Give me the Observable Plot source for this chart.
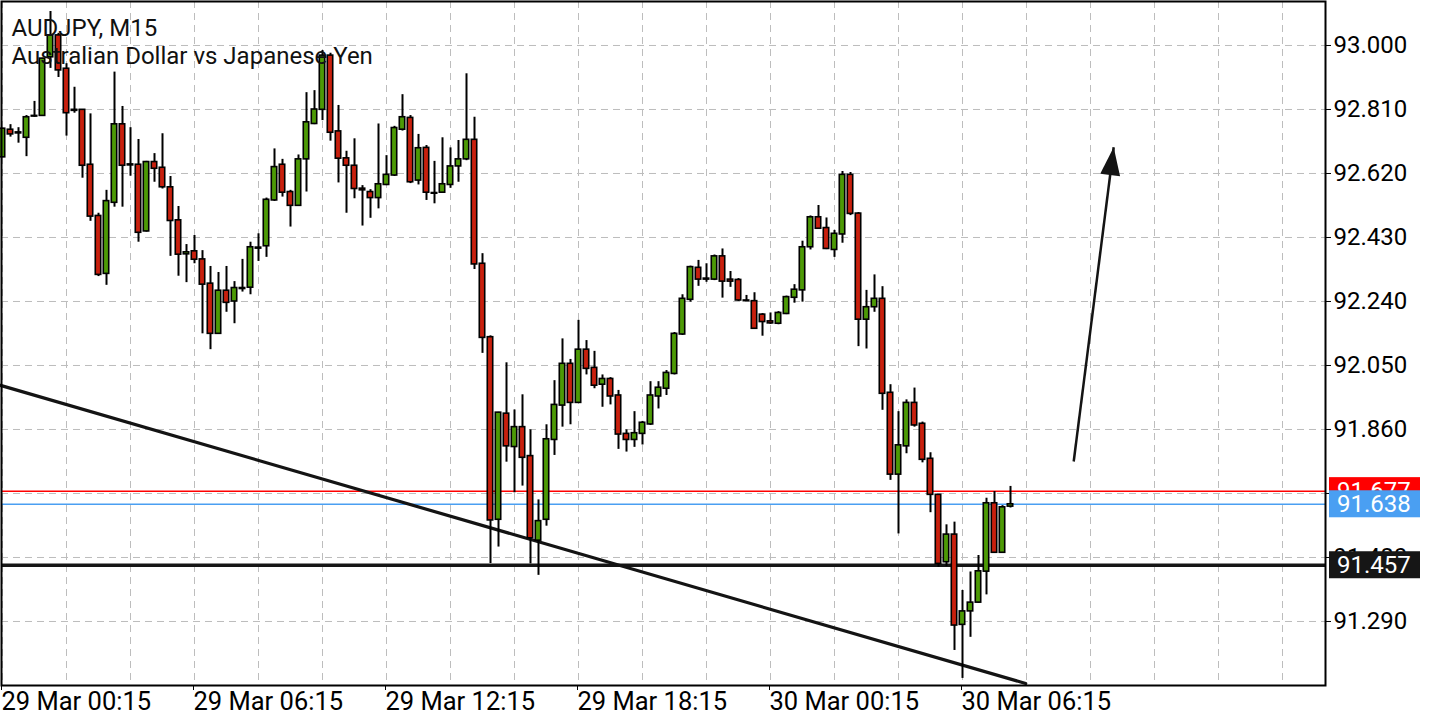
<!DOCTYPE html>
<html><head><meta charset="utf-8">
<script src="https://cdn.jsdelivr.net/npm/d3@7"></script>
<script src="https://cdn.jsdelivr.net/npm/@observablehq/plot@0.6"></script>
<style>
html,body{margin:0;padding:0;background:#fff;}
#chart{position:relative;width:1440px;height:720px;}
</style></head><body><div id="chart"></div>
<script>
const titleLine1 = "AUDJPY, M15";
const titleLine2 = "Australian Dollar vs Japanese Yen";

const open = [92.668,92.750,92.739,92.726,92.789,92.791,92.965,93.030,92.931,92.809,92.809,92.646,92.494,92.322,92.533,92.766,92.647,92.646,92.448,92.654,92.637,92.579,92.481,92.380,92.389,92.365,92.293,92.144,92.272,92.240,92.277,92.281,92.397,92.404,92.540,92.646,92.565,92.524,92.662,92.767,92.809,92.970,92.745,92.665,92.643,92.575,92.565,92.547,92.586,92.614,92.750,92.785,92.599,92.696,92.562,92.563,92.586,92.641,92.662,92.720,92.352,92.134,91.592,91.907,91.808,91.867,91.781,91.530,91.592,91.829,91.931,92.055,91.939,92.097,92.043,91.993,92.010,91.961,91.847,91.829,91.847,91.875,91.958,91.981,92.025,92.142,92.245,92.340,92.308,92.305,92.374,92.305,92.304,92.243,92.241,92.201,92.181,92.174,92.203,92.251,92.273,92.401,92.490,92.458,92.393,92.439,92.616,92.501,92.186,92.223,92.248,91.969,91.726,91.810,91.939,91.877,91.773,91.666,91.466,91.548,91.280,91.320,91.346,91.438,91.641,91.494,91.631];
const high = [92.754,92.765,92.756,92.792,92.834,92.962,93.101,93.036,92.946,92.876,92.810,92.797,92.502,92.570,92.921,92.819,92.756,92.721,92.656,92.679,92.738,92.611,92.522,92.409,92.436,92.391,92.344,92.326,92.344,92.299,92.365,92.416,92.441,92.547,92.693,92.662,92.570,92.675,92.860,92.866,92.985,92.977,92.822,92.686,92.723,92.584,92.572,92.767,92.673,92.760,92.854,92.792,92.736,92.703,92.656,92.726,92.696,92.718,92.916,92.787,92.382,92.138,91.911,92.058,91.918,91.963,91.859,91.651,91.874,92.005,92.129,92.068,92.184,92.124,92.092,92.022,92.014,91.976,91.859,91.913,91.884,92.002,92.002,92.035,92.148,92.260,92.345,92.362,92.352,92.378,92.396,92.329,92.308,92.258,92.266,92.204,92.206,92.210,92.256,92.290,92.419,92.494,92.525,92.488,92.451,92.626,92.623,92.504,92.273,92.319,92.284,91.993,91.913,91.948,91.983,91.882,91.791,91.667,91.577,91.585,91.382,91.437,91.486,91.656,91.676,91.634,91.691];
const low = [92.667,92.728,92.710,92.670,92.787,92.790,92.932,92.905,92.731,92.799,92.606,92.478,92.314,92.288,92.520,92.520,92.612,92.416,92.446,92.594,92.574,92.374,92.315,92.296,92.352,92.144,92.097,92.142,92.208,92.174,92.268,92.260,92.359,92.371,92.537,92.550,92.461,92.522,92.565,92.765,92.777,92.716,92.592,92.502,92.545,92.464,92.487,92.515,92.584,92.611,92.746,92.590,92.586,92.540,92.530,92.561,92.576,92.594,92.658,92.335,92.086,91.462,91.511,91.763,91.672,91.692,91.461,91.427,91.573,91.783,91.867,91.874,91.937,92.022,91.981,91.926,91.933,91.801,91.793,91.807,91.814,91.872,91.921,91.961,92.022,92.139,92.238,92.285,92.297,92.302,92.250,92.282,92.240,92.240,92.157,92.137,92.172,92.171,92.201,92.235,92.238,92.393,92.454,92.394,92.371,92.413,92.495,92.106,92.099,92.208,91.917,91.709,91.550,91.788,91.867,91.761,91.613,91.451,91.453,91.204,91.121,91.243,91.344,91.369,91.492,91.492,91.627];
const close = [92.753,92.736,92.742,92.787,92.791,92.961,93.030,92.926,92.799,92.806,92.643,92.492,92.319,92.538,92.766,92.643,92.644,92.444,92.654,92.634,92.579,92.479,92.379,92.386,92.364,92.290,92.144,92.272,92.236,92.280,92.280,92.401,92.400,92.542,92.639,92.563,92.524,92.662,92.772,92.810,92.970,92.741,92.664,92.643,92.574,92.570,92.547,92.588,92.616,92.755,92.787,92.594,92.695,92.563,92.560,92.588,92.641,92.662,92.720,92.350,92.132,91.590,91.910,91.810,91.867,91.776,91.537,91.588,91.831,91.933,92.055,91.939,92.097,92.040,91.990,92.010,91.958,91.845,91.829,91.849,91.880,91.961,91.984,92.028,92.144,92.248,92.342,92.305,92.305,92.374,92.299,92.299,92.243,92.241,92.159,92.179,92.175,92.206,92.253,92.275,92.401,92.490,92.456,92.396,92.441,92.616,92.500,92.186,92.223,92.248,91.966,91.726,91.813,91.939,91.872,91.770,91.666,91.461,91.548,91.278,91.320,91.346,91.439,91.641,91.494,91.629,91.638];

const xTickIdx = [0, 24, 48, 72, 96, 120];
const xTickLabels = ["29 Mar 00:15","29 Mar 06:15","29 Mar 12:15","29 Mar 18:15","30 Mar 00:15","30 Mar 06:15"];
const yTicks = [91.29, 91.48, 91.67, 91.86, 92.05, 92.24, 92.43, 92.62, 92.81, 93.0];

const levelValues = [91.677, 91.638, 91.457];
const levelColors = ["#ff0000", "#4a9ff2", "#161616"];
const levelWidths = [1.5, 1.5, 3.5];

const trendIdx = [-0.25, 127.9];
const trendPrice = [91.991, 91.106];
const arrowIdx = [133.9, 138.9];
const arrowPrice = [91.765, 92.698];

const BULL = "#4d9a06", BEAR = "#c8200e";

const candles = d3.range(open.length).map(i => ({i, o: open[i], h: high[i], l: low[i], c: close[i]}));
const trend = trendIdx.map((x, k) => ({x, y: trendPrice[k]}));
const arrow = [{x1: arrowIdx[0], y1: arrowPrice[0], x2: arrowIdx[1], y2: arrowPrice[1]}];
const levels = levelValues.map((v, k) => ({v, color: levelColors[k], w: levelWidths[k]}));

const headSymbol = {draw(ctx) { ctx.moveTo(0, 0); ctx.lineTo(-10, 28); ctx.lineTo(10, 28); ctx.closePath(); }};

const font = "Roboto, 'Noto Sans', sans-serif";

const chart = Plot.plot({
  width: 1440, height: 720,
  marginLeft: 1, marginRight: 115, marginTop: 1, marginBottom: 35,
  style: {fontFamily: font, background: "#fff", color: "#000"},
  x: {domain: [-0.125, 165.375]},
  y: {domain: [91.1, 93.1306]},
  marks: [
    Plot.gridY(yTicks, {stroke: "#bdbdbd", strokeOpacity: 1, strokeDasharray: "7,5"}),
    Plot.gridX(d3.range(0, 166, 8), {stroke: "#bdbdbd", strokeOpacity: 1, strokeDasharray: "7,5"}),
    ...levels.map(l => Plot.ruleY([l.v], {stroke: l.color, strokeWidth: l.w})),
    Plot.line(trend, {x: "x", y: "y", stroke: "#141414", strokeWidth: 3.2}),
    Plot.ruleX(candles, {x: "i", y1: "l", y2: "h", stroke: "#000", strokeWidth: 2}),
    Plot.rect(candles, {filter: d => d.c >= d.o, x1: d => d.i - 0.34, x2: d => d.i + 0.34, y1: "o", y2: "c", fill: BULL, stroke: "#000", strokeWidth: 1.6}),
    Plot.rect(candles, {filter: d => d.c < d.o, x1: d => d.i - 0.34, x2: d => d.i + 0.34, y1: "o", y2: "c", fill: BEAR, stroke: "#000", strokeWidth: 1.6}),
    Plot.link(arrow, {x1: "x1", y1: "y1", x2: "x2", y2: "y2", stroke: "#141414", strokeWidth: 2.5}),
    Plot.dot(arrow, {x: "x2", y: "y2", symbol: headSymbol, fill: "#141414", stroke: "none", rotate: 7.3}),
    Plot.text([titleLine1 + "\n" + titleLine2], {frameAnchor: "top-left", dx: 10, dy: 14, lineAnchor: "top", textAnchor: "start", fontSize: 24, lineHeight: 1.18, fill: "#111"}),
    Plot.axisY(yTicks, {anchor: "right", tickSize: 5, tickPadding: 3, fontSize: 24, tickFormat: d => d.toFixed(3), stroke: "#000"}),
    Plot.axisX(xTickIdx, {anchor: "bottom", tickSize: 5, tickPadding: 1, fontSize: 25.5, textAnchor: "start", dx: -1, tickFormat: d => xTickLabels[xTickIdx.indexOf(d)], stroke: "#000"}),
    Plot.frame({stroke: "#000", strokeWidth: 2})
  ]
});

document.getElementById("chart").appendChild(chart);

// price labels on the right axis, positioned with Plot's own y scale
const ys = chart.scale("y");
const svg = d3.select(chart);
const g = svg.append("g").attr("font-family", font).attr("font-size", 24).attr("text-anchor", "start");
levels.forEach(l => {
  const cy = ys.apply(l.v);
  g.append("rect").attr("x", 1329).attr("y", cy - 13.5).attr("width", 91).attr("height", 27).attr("fill", l.color);
  g.append("text").attr("x", 1337).attr("y", cy).attr("dy", "0.36em").attr("fill", "#fff").text(l.v.toFixed(3));
});
</script>
</body></html>
